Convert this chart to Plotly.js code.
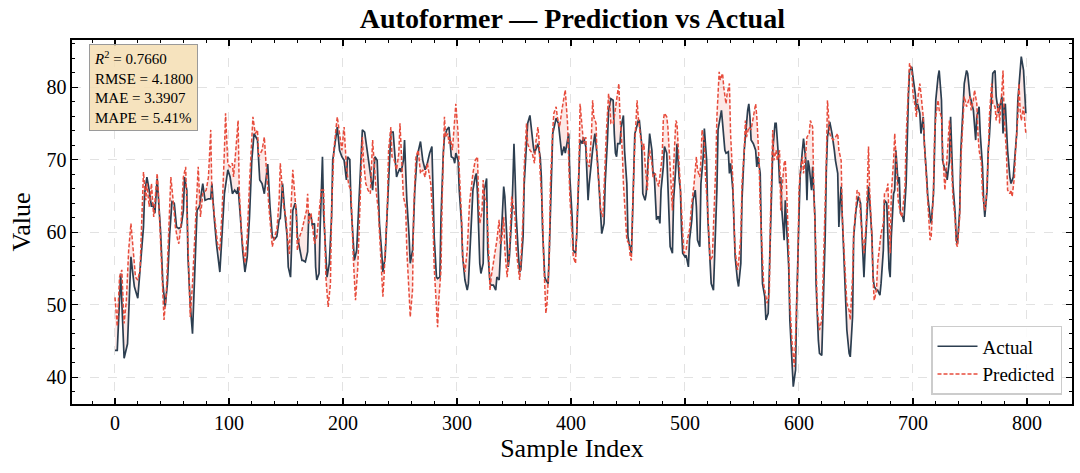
<!DOCTYPE html>
<html>
<head>
<meta charset="utf-8">
<script src="https://cdn.plot.ly/plotly-3.0.1.min.js"></script>
<style>
  html, body { margin: 0; padding: 0; background: #fff; }
  #chart { width: 1080px; height: 473px; }
</style>
</head>
<body>
<div id="chart"></div>
<script>
// Values: [sample index, value]
const actualPoints = [
  [0,43.7],[2,43.7],[5,54.3],[8,42.6],[11,44.6],[14,56.6],[16,53.8],[17,52.5],[20,50.9],[23,56.6],[25,60.7],[26,65.3],[28,67.6],[30,65.8],[32,63.5],[33,64],[35,62.6],[37,67.4],[38,65.3],[40,60.1],[42,52.9],[44,49.7],[46,52.9],[48,59.8],[50,64.2],[52,64],[54,60.7],[56,60.5],[58,60.7],[60,63],[61,67.6],[63,65.8],[64,56.6],
  [66,50],[68,46],[70,55],[72,63],[74,63.5],[77,66.7],[79,64.4],[82,64.6],[84,64.6],[85,66.7],[87,62.1],[89,58.4],[92,54.5],[94,59.8],[96,65.3],[99,68.6],[101,67.6],[103,65.3],[105,65.8],[107,65.3],[108,66.2],[110,62.1],[112,57.5],[114,54.5],[116,56.6],[118,62.1],[120,69.9],[122,73.6],[125,72.7],[127,67.2],[129,66.7],[131,65.3],[133,68.8],
  [134,69.4],[136,63.5],[138,59.4],[140,59],[142,59.4],[144,61.7],[145,61.9],[147,66.7],[148,64],[149,62.6],[151,59.4],[152,55.2],[154,53.8],[155,57.5],[156,63],[158,64],[159,63],[160,59.4],[162,57.5],[164,56.1],[165,56.1],[167,55.9],[169,57.3],[170,62.6],[172,62.2],[173,61],[175,61.2],[176,55.2],[177,53.4],[179,54.3],[180,60.7],[182,70.4],[183,62.6],[185,56.6],[186,53.8],[188,55.7],[190,62.1],[191,69.9],[194,73.1],[195,74.5],[197,71.3],[199,70.4],[201,69.9],[203,67.2],
  [204,70.4],[206,70],[207,64],[209,59.4],[210,56.1],[212,57.5],[214,64.9],[216,70.9],[217,74.1],[219,73.8],[221,71.3],[223,68.6],[224,68.1],[226,65.8],[227,67.6],[228,70.4],[230,69.9],[231,65.8],[232,61.2],[234,57.1],[235,54.5],[237,56.6],[239,64],[241,70.9],[242,73.8],[244,73.8],[245,71.3],[247,67.6],[248,68.1],[250,68.8],[251,68.3],[253,69.9],[254,72.7],[255,67.6],[256,64.4],[258,59.4],[259,55.7],[261,57.5],[263,65.8],[265,70.4],[267,71.8],[268,72.5],[270,69.9],[272,68.6],[274,69.5],
  [275,70.4],[276,70.9],[278,71.8],[279,64.9],[280,59.4],[282,53.8],[283,53.6],[285,53.8],[286,62.1],[288,70.9],[289,73.1],[291,74.1],[293,74.5],[295,70.4],[297,70.2],[298,69.5],[299,70.9],[301,69.9],[302,65.8],[304,61.2],[305,56.6],[307,53.4],[309,52],[310,52.9],[312,59.8],[314,65.8],[316,67.6],[317,68.1],[318,65.3],[320,55.7],[321,54.3],[323,55.7],[324,65.8],[326,67.4],[327,57.5],[329,52.9],[330,52.7],[332,52.7],[334,52],[335,53.8],[337,53.4],[338,56.6],[340,62.1],[341,66.3],[342,64.9],[344,57.5],[345,55.2],
  [346,56.6],[348,62.1],[349,66.7],[350,72.2],[351,67.6],[352,62.1],[354,56.6],[355,54.5],[356,54.8],[358,59.4],[359,66.7],[361,72.7],[362,75],[364,76.1],[365,74.5],[367,71.8],[368,70.9],[370,71.8],[371,72.2],[373,70.4],[374,67.6],[375,60.7],[377,53.8],[378,53.4],[380,52.9],[381,57.5],[383,69],[384,73.6],[386,75],[387,75.7],[389,75],[391,72.2],[392,70.6],[394,71.8],[395,70.9],[397,72.7],[398,73.6],[399,67.6],[401,62.1],[402,57.5],[404,57.1],[405,59.4],[407,67.6],[408,72.7],[410,72.2],[411,73.1],[413,71.8],[414,67.6],[415,64.4],
  [416,66.7],[418,69.9],[419,71.3],[421,73.6],[423,70.4],[425,65.3],[426,62.1],[427,59.8],[429,61.2],[430,66.7],[432,72.7],[433,76.8],[435,78.4],[437,78.2],[438,73.6],[439,70.9],[440,70.4],[441,72.2],[443,72.2],[444,74.5],[446,76.1],[447,71.3],[449,66.7],[450,59.4],[451,58.4],[453,57.1],[454,62.1],[456,73.6],[457,74.1],[459,75.4],[460,75.4],[462,72.2],[463,65.3],[465,64.4],[466,65.3],[468,69.9],[469,73.6],[471,71.3],[472,68.1],[473,68.1],[475,61.7],[476,62.1],[477,62.1],[478,61.2],[479,65.8],[481,69],[482,71.8],[484,70.9],[485,66.7],
  [487,58],[489,57.1],[490,64.4],[492,69],[493,72.2],[495,67.2],[496,65.8],[497,60.3],[498,57.1],[500,56.6],[501,56.8],[503,55.2],[504,58.9],[506,61.7],[507,64.4],[509,65.8],[510,63.5],[511,58.9],[513,58],[514,66.7],[516,70.4],[517,74.3],[519,69.9],[520,62.1],[522,56.6],[523,52.9],[525,52],[526,56.6],[528,65.8],[529,74.1],[530,75],[532,76.8],[533,75],[535,71.3],[536,70.9],[538,71.1],[539,68.1],[540,69.5],[542,65.8],[543,60.7],[544,56.6],[546,53.4],[547,52.5],[549,55.7],[550,64.4],[552,71.3],[553,73.6],[555,76.8],[556,77.7],
  [557,75.9],[558,72.7],[560,72.2],[562,71.3],[563,69],[564,70.4],[566,68.1],[567,59.4],[568,52.9],[570,51.1],[571,47.9],[573,48.8],[574,53.8],[576,64.4],[577,71.3],[579,75],[580,75],[582,70.4],[583,66.7],[584,67.6],[585,63],[587,58.9],[588,64.4],[589,61.2],[591,55.2],[592,47.9],[594,42.8],[595,38.7],[597,41],[598,50.2],[600,62.1],[601,67.6],[603,71.3],[604,72.9],[606,69.9],[607,64.4],[608,69.9],[609,69],[611,65.8],[612,69],[614,62.1],[615,52.9],[617,45.1],[618,43.3],[620,43],[621,48.3],[623,59.4],[624,68.6],[625,73.1],
  [627,75.2],[629,73.6],[631,71.3],[632,69.9],[634,68.1],[635,60.7],[636,64],[637,66.3],[638,62.1],[640,55.2],[641,50.2],[642,46.5],[644,43.3],[645,42.8],[647,48.3],[648,59.4],[650,63],[651,64.4],[652,64.9],[654,64],[655,59.8],[656,55.7],[657,53.8],[658,57.5],[660,64],[661,66.3],[662,64.4],[664,59.4],[665,53.8],[666,52.5],[668,52],[669,52],[671,51.3],[672,52.9],[674,57.5],[675,64.4],[677,64],[678,59.8],[679,55],[680,53.8],[681,59.4],[683,65.3],[684,65.8],[685,71.3],[687,66.7],[688,67.6],[689,62.6],[691,62.1],[692,61.4],[694,66.7],[695,73.6],[696,78.7],
  [697,82.3],[699,82.8],[700,81.4],[702,79.1],[703,76.8],[704,77.7],[706,76.4],[707,73.6],[709,75.9],[710,72.2],[712,67.6],[713,64.9],[715,62.1],[716,61.2],[718,65.3],[719,72.2],[720,78.2],[722,81.4],[723,82.3],[725,78.2],[726,69.9],[728,68.6],[729,68.6],[730,67.2],[732,69.9],[733,75.9],[734,71.3],[735,66.7],[737,62.6],[738,58.9],[739,58.4],[741,63],[742,71.3],[744,78.2],[745,80.5],[747,82.3],[748,81.9],[750,78.7],[751,78.2],[753,76.8],[754,74.1],[755,72.7],[756,75.9],[758,77.3],[759,73.6],[761,69],[762,64.4],[763,62.1],[765,65.8],[766,71.3],
  [767,73.1],[769,78.2],[770,81.9],[772,82.3],[773,78.7],[775,76.4],[776,77.3],[778,78.7],[779,73.6],[780,77.3],[781,77.7],[782,74.5],[783,71.3],[785,67.6],[786,66.7],[788,67.6],[789,69.9],[791,73.6],[792,78.2],[794,82.8],[795,84.2],[797,82.3],[798,79.6],[799,76.4]
];

const predictedPoints = [
  [0,51],[2,47],[4,53.8],[6,54.8],[8,47.4],[10,50.6],[12,57.5],[14,61.2],[16,57.5],[18,53.8],[20,53.4],[22,54.8],[23,59.4],[25,68.3],[27,64.4],[28,66.7],[30,63.5],[32,66.7],[34,62.1],[37,68.1],[38,65.8],[40,58.4],[42,52],[43,47.9],[45,51.5],[47,59.8],[49,67.6],[51,64.4],[53,60.7],[55,58.9],[56,58.4],[58,61.2],[60,67.6],[62,69],[64,57.5],
  [66,48.3],[68,52.9],[71,63.5],[73,69],[75,62.1],[77,65.3],[80,65.8],[82,67.6],[84,74.1],[85,65.3],[88,61.2],[90,58.4],[92,57.5],[94,63],[96,71.3],[97,76.4],[99,69.4],[101,69],[103,69.5],[104,67.6],[106,71.3],[108,75.4],[109,65.8],[111,59.8],[114,55.7],[116,59.4],[118,66.7],[120,72.2],[121,75.9],[123,73.6],[125,74.1],[126,70.4],[129,71.3],[131,73.1],[133,67.6],
  [135,63.5],[138,58],[140,59.4],[142,60.3],[144,64.4],[145,69.5],[147,65.8],[148,63.5],[150,62.1],[151,59.8],[153,57],[154,62.1],[156,68.6],[157,66.3],[159,62.6],[160,57.5],[162,59.4],[164,60.3],[166,61.7],[168,63],[169,65.3],[170,61.2],[172,62.6],[173,61.2],[175,58.4],[177,59.4],[179,63],[181,65.8],[183,65.8],[184,58.9],[185,53.8],[187,49.7],[189,52.9],[190,63],[192,71.3],[194,74.5],[195,75.9],[197,73.6],[199,71.3],[201,74.5],[203,69],
  [205,66.5],[207,65.8],[209,56.6],[211,50.6],[213,55.2],[215,65.8],[217,73.1],[218,69.9],[220,66.7],[222,65.8],[224,65.3],[226,72.7],[227,69.9],[229,65.8],[231,63],[233,57.5],[235,51.1],[236,53.8],[239,64],[240,71.3],[242,74.5],[243,70.4],[245,69.9],[247,68.6],[249,70.9],[250,75],[252,67.6],[253,64.9],[255,63.5],[256,57.5],[258,51.5],[259,48.3],[261,52],[262,63],[264,70.4],[266,71.3],[268,68.1],[270,68.6],[272,67.6],[274,69.5],
  [277,66.7],[279,61.2],[280,55.2],[282,49.2],[283,46.9],[284,50.6],[286,54.8],[287,64.4],[289,75.9],[290,73.1],[292,73.6],[293,72.2],[294,73.1],[296,71.3],[297,73.6],[299,77.7],[301,73.6],[302,68.6],[304,62.1],[305,56.6],[307,54.5],[309,57.5],[311,64],[313,67.2],[314,68.1],[316,69.9],[318,70.4],[319,64.4],[320,61.2],[322,63],[323,67.2],[324,64.9],[326,64],[328,56.6],[329,52],[330,53.8],[332,55.7],[333,57.1],[335,58.9],[337,61.7],[338,58.4],[339,58.6],[341,62.1],[342,57.5],[344,53.8],
  [346,57.5],[348,64.9],[349,64],[351,62.1],[352,57.5],[354,55.2],[355,53.4],[356,55.7],[358,62.1],[359,69],[361,75],[362,72.2],[364,71.3],[366,70.9],[368,69.5],[369,72.2],[371,74.5],[372,72.7],[373,68.1],[375,63],[376,56.6],[378,48.8],[379,50.2],[381,56.6],[382,66.7],[384,74.1],[385,76.4],[387,77.3],[388,75.9],[390,74.5],[391,75.9],[392,76.8],[394,78.7],[395,79.6],[397,75],[398,69.9],[399,64.9],[401,59.8],[402,56.6],[404,55.7],[405,59.8],[407,69],[408,77.7],[410,74.1],[411,72.2],[413,73.1],[414,69.9],
  [416,69],[418,73.6],[419,78.2],[420,75.9],[422,75],[423,69.9],[425,65.8],[426,63],[428,62.1],[429,66.7],[431,73.6],[433,79.1],[434,77.7],[435,75],[437,75],[438,75.9],[440,78.2],[442,80.5],[443,75.9],[445,71.3],[446,66.7],[448,62.1],[449,58.9],[451,58.4],[452,56.6],[453,56.1],[454,63],[456,72.2],[458,78.2],[459,75.9],[461,73.1],[463,71.3],[464,72.2],[465,69.5],[467,65.8],[468,69.9],[469,71.3],[471,69.5],[472,67.6],[474,68.1],[475,67.2],[477,66.3],[478,67.6],[480,70.4],[481,75.4],[482,76.4],[484,75.9],[485,74.5],
  [487,69],[489,63],[490,69],[492,75.4],[493,75],[495,69],[496,64.4],[498,59.4],[499,57.1],[501,57.5],[502,58.9],[504,60.3],[505,63],[506,64],[508,66.7],[510,70.4],[511,68.6],[513,67.6],[514,69.9],[515,74.1],[517,72.2],[518,67.6],[520,63],[521,58.9],[522,56.1],[524,56.6],[525,60.3],[527,69],[528,75.9],[530,82.1],[531,81],[533,81.9],[534,80],[536,77.7],[537,79.1],[539,80.5],[540,73.6],[542,67.2],[543,61.2],[544,57.5],[546,54.8],[547,55.7],[549,59.4],[550,66.7],[552,71.3],[553,75.4],[554,73.1],[556,74.5],
  [558,74.1],[560,75.9],[562,77.7],[563,75.9],[565,69.9],[566,63.5],[568,56.6],[569,52.9],[571,51.1],[572,50.2],[574,51.5],[575,62.1],[577,74.1],[578,69.9],[580,71.3],[581,69.9],[583,71.3],[584,63],[585,65.8],[587,69.5],[588,69.9],[589,66.7],[591,57.5],[592,50.2],[594,44.6],[596,41.4],[597,45.6],[599,55.2],[600,65.8],[601,68.1],[603,70.4],[604,68.1],[606,70.9],[607,73.1],[609,73.6],[610,75.4],[612,74.5],[613,65.8],[615,56.6],[616,49.2],[618,46.5],[620,47.9],[621,52.9],[623,63],[624,69.9],[625,78.2],
  [627,73.6],[628,73.1],[630,72.7],[632,73.1],[634,73.6],[635,71.3],[637,69.9],[638,62.1],[640,55.7],[641,52.9],[642,50.2],[644,49.2],[645,47.9],[647,53.8],[648,59.8],[650,63.5],[651,65.8],[653,65.3],[654,62.1],[656,58.9],[657,57.1],[659,61.2],[660,65.8],[661,71.8],[662,65.8],[664,59.4],[665,53.4],[666,50.6],[668,52],[669,55.7],[671,58.4],[672,59.8],[674,61.2],[675,65.3],[677,65.8],[678,66.7],[680,57.1],[681,65.3],[683,69.9],[684,73.6],[685,70.8],[687,64.4],[688,63.5],[690,62.1],[691,63],[693,66.3],[694,73.1],[696,79.6],[697,83.3],
  [699,82.3],[700,79.1],[702,77.3],[703,75.9],[704,78.2],[706,80.5],[707,79.1],[709,75.9],[710,72.2],[712,66.7],[713,62.6],[715,58.9],[716,59.4],[718,65.8],[719,73.6],[720,75.9],[722,78.2],[723,76.8],[725,75.9],[726,71.3],[728,65.8],[729,68.6],[731,72.7],[732,75.4],[734,68.6],[735,64.9],[737,61.7],[738,58.4],[739,58],[741,62.1],[742,69.9],[744,75.9],[745,78.7],[747,77.3],[748,77.7],[750,78.7],[751,76.8],[753,78.2],[754,79.6],[756,77.7],[757,73.6],[758,71.3],[760,69.5],[761,65.3],[763,63],[764,64],[766,69.9],
  [767,75.9],[769,80.5],[770,77.7],[772,77.3],[773,75.4],[775,77.7],[776,75],[778,79.6],[779,82.3],[780,75.9],[781,73.1],[782,70.9],[783,65.8],[785,65.3],[786,65.8],[787,64.9],[789,67.6],[790,71.3],[792,75.9],[793,80.5],[794,76.8],[795,75.4],[797,77.3],[798,75.9],[799,73.6]
];

const metricNames = ['R<sup>2</sup>', 'RMSE', 'MAE', 'MAPE'];
const metricValues = ['0.7660', '4.1800', '3.3907', '5.41%'];

const xTicks = [0, 100, 200, 300, 400, 500, 600, 700, 800];
const yTicks = [40, 50, 60, 70, 80];

const actualX = actualPoints.map(p => p[0]);
const actualY = actualPoints.map(p => p[1]);
const predX = predictedPoints.map(p => p[0]);
const predY = predictedPoints.map(p => p[1]);

const serif = 'Liberation Serif, Times New Roman, serif';
const actualColor = '#2c3e50';
const predColor = '#e74c3c';

// shaded band between the two curves, drawn under the lines
const bandLow = {
    x: actualX, y: actualY, type: 'scatter', mode: 'lines',
    line: { width: 0 }, hoverinfo: 'skip', showlegend: false
};
const bandHigh = {
    x: predX, y: predY, type: 'scatter', mode: 'lines',
    line: { width: 0 }, fill: 'tonexty', fillcolor: 'rgba(231,76,60,0.13)',
    hoverinfo: 'skip', showlegend: false
};

const actualTrace = {
    x: actualX, y: actualY, type: 'scatter', mode: 'lines', name: 'Actual',
    line: { color: actualColor, width: 1.7 }
};
const predTrace = {
    x: predX, y: predY, type: 'scatter', mode: 'lines', name: 'Predicted',
    line: { color: predColor, width: 1.5, dash: '4px,2px' }
};

const statsText = metricNames.map((n, i) => {
    const label = i === 0 ? '<i>R</i><sup>2</sup>' : n;
    return label + ' = ' + metricValues[i];
}).join('<br>');

const axisCommon = {
    showline: true, linecolor: '#000', linewidth: 1.6, mirror: 'ticks',
    ticks: 'inside', ticklen: 6, tickwidth: 1.2, tickcolor: '#000',
    showgrid: true, gridcolor: '#cfcfcf', gridwidth: 0.6, griddash: 'dash',
    zeroline: false,
    tickfont: { family: serif, size: 20, color: '#000' }
};

const layout = {
    width: 1080, height: 473,
    paper_bgcolor: '#fff', plot_bgcolor: '#fff',
    margin: { l: 72, r: 8, t: 40, b: 69 },
    title: {
        text: '<b>Autoformer — Prediction vs Actual</b>',
        font: { family: serif, size: 28, color: '#000' },
        x: 0.53, xanchor: 'center', y: 0.962, yanchor: 'middle'
    },
    xaxis: Object.assign({}, axisCommon, {
        range: [-37.7, 839.5],
        tickvals: xTicks,
        minor: { ticks: 'inside', ticklen: 3, tickcolor: '#000', dtick: 20, tick0: 0, showgrid: false },
        title: { text: 'Sample Index', font: { family: serif, size: 26, color: '#000' }, standoff: 4 }
    }),
    yaxis: Object.assign({}, axisCommon, {
        range: [36.3, 86.5],
        tickvals: yTicks,
        minor: { ticks: 'inside', ticklen: 3, tickcolor: '#000', dtick: 2, tick0: 0, showgrid: false },
        title: { text: 'Value', font: { family: serif, size: 26, color: '#000' }, standoff: 8 }
    }),
    legend: {
        x: 0.99, y: 0.025, xanchor: 'right', yanchor: 'bottom',
        traceorder: 'normal',
        bgcolor: 'rgba(255,255,255,0.9)', bordercolor: '#cccccc', borderwidth: 1.5,
        font: { family: serif, size: 19, color: '#000' },
        tracegroupgap: 0, itemwidth: 40
    },
    annotations: [{
        xref: 'paper', yref: 'paper', x: 0.017, y: 0.99,
        xanchor: 'left', yanchor: 'top', align: 'left', showarrow: false,
        text: statsText,
        font: { family: serif, size: 15, color: '#000' },
        bgcolor: 'rgba(245,222,179,0.85)', bordercolor: '#9a9a9a', borderwidth: 1, borderpad: 4
    }]
};

Plotly.newPlot('chart', [bandLow, bandHigh, actualTrace, predTrace], layout, {
    displayModeBar: false, staticPlot: true
});
</script>
</body>
</html>
